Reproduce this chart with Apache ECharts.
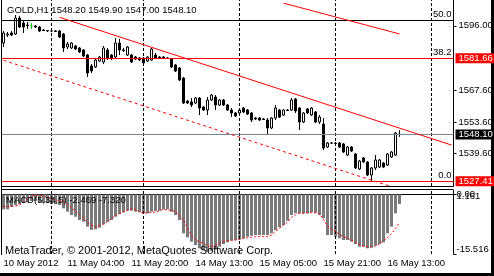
<!DOCTYPE html>
<html><head><meta charset="utf-8">
<script src="https://cdn.jsdelivr.net/npm/echarts@6/dist/echarts.min.js"></script>
<style>html,body{margin:0;padding:0;background:#fff}#c{width:494px;height:276px}</style>
</head><body><div id="c"></div>
<script>
// ---------- data ----------
const opens = [1588.41,1591.94,1592.82,1592.38,1599.44,1597.23,1596.35,1595.91,1595.91,1595.47,
1594.15,1593.93,1593.71,1593.71,1593.71,1592.38,1586.65,1586.21,1587.09,1586.21,
1585.33,1583.12,1578.27,1577.83,1580.47,1580.03,1585.33,1583.12,1582.24,1588.41,
1585.33,1583.12,1583.12,1582.24,1581.80,1581.80,1580.47,1580.91,1583.12,1582.24,
1582.24,1581.80,1581.36,1578.71,1577.39,1572.97,1562.83,1562.39,1561.95,1564.15,
1560.18,1558.86,1563.27,1564.59,1561.06,1563.27,1561.06,1558.86,1557.54,1557.54,
1559.74,1558.86,1557.54,1555.33,1555.33,1554.89,1554.45,1550.92,1555.33,1558.86,
1556.65,1558.86,1558.86,1563.71,1559.74,1553.56,1559.30,1556.65,1557.98,1553.56,
1552.68,1542.54,1544.30,1544.30,1544.30,1543.86,1539.01,1542.54,1539.45,1532.84,
1537.69,1535.92,1530.19,1533.28,1533.72,1535.48,1534.60,1538.13,1539.01,1548.20];
const closes = [1592.82,1592.38,1591.94,1599.44,1595.47,1595.47,1596.13,1595.91,1595.47,1593.71,
1593.93,1593.71,1593.70,1593.49,1591.06,1586.21,1587.97,1588.41,1585.77,1584.44,
1582.68,1575.18,1576.06,1580.91,1582.24,1586.21,1581.80,1581.36,1588.41,1585.33,
1585.10,1586.65,1580.03,1581.36,1580.91,1579.59,1582.24,1585.77,1581.80,1581.80,
1581.80,1581.58,1577.83,1576.06,1572.09,1561.95,1561.95,1561.06,1564.15,1559.74,
1558.86,1563.27,1565.47,1561.06,1563.27,1561.06,1558.86,1557.54,1556.21,1558.86,
1557.98,1557.09,1554.45,1554.89,1554.45,1554.67,1550.92,1555.33,1559.74,1555.77,
1558.86,1558.64,1563.27,1558.42,1553.56,1557.54,1557.54,1559.74,1553.56,1555.77,
1542.10,1544.30,1544.28,1544.08,1542.54,1540.33,1542.54,1540.78,1533.28,1536.36,
1535.92,1530.19,1533.28,1536.81,1536.81,1533.72,1539.45,1540.33,1548.71,1548.10];
const lows = [1586.65,1591.06,1591.50,1591.94,1595.03,1592.82,1594.59,1594.59,1595.03,1593.26,
1593.71,1593.26,1593.26,1593.26,1590.62,1584.44,1585.77,1585.77,1585.33,1584.00,
1582.24,1573.42,1575.18,1577.39,1580.03,1579.15,1580.91,1580.91,1581.36,1583.12,
1584.44,1582.68,1579.59,1580.91,1580.47,1578.71,1580.03,1580.47,1581.36,1581.36,
1581.36,1581.36,1577.39,1575.62,1571.65,1561.51,1561.51,1560.18,1561.51,1556.65,
1558.42,1556.65,1562.83,1558.86,1560.62,1560.62,1558.42,1555.77,1555.77,1557.09,
1557.54,1556.65,1553.56,1554.45,1554.01,1554.45,1548.27,1550.48,1554.45,1555.33,
1556.21,1558.42,1558.42,1557.54,1550.04,1553.12,1557.09,1556.21,1553.12,1552.68,
1541.22,1542.10,1543.86,1543.86,1542.10,1539.89,1538.57,1540.33,1532.84,1532.39,
1535.48,1529.75,1527.41,1532.39,1533.28,1533.28,1534.16,1537.69,1538.57,1547.00];
const highs = [1593.71,1593.26,1593.71,1600.76,1600.32,1598.12,1597.68,1597.23,1596.35,1595.91,
1594.59,1594.15,1594.15,1594.15,1594.15,1592.82,1588.85,1588.85,1587.53,1586.65,
1585.77,1583.56,1579.15,1581.80,1582.68,1587.09,1586.21,1583.56,1590.62,1590.18,
1586.21,1587.09,1583.56,1582.68,1582.24,1582.24,1582.68,1586.21,1584.00,1582.68,
1582.68,1582.24,1581.80,1579.15,1577.83,1573.42,1563.27,1564.15,1564.59,1564.59,
1560.62,1564.59,1565.91,1565.47,1563.71,1563.71,1561.51,1559.74,1557.98,1559.30,
1560.18,1559.30,1557.98,1555.77,1555.77,1555.33,1555.33,1555.77,1561.06,1559.30,
1559.30,1559.30,1564.15,1564.15,1560.18,1557.98,1559.74,1560.18,1558.42,1556.65,
1555.33,1544.74,1544.74,1544.74,1544.74,1544.30,1542.98,1542.98,1539.89,1536.81,
1538.13,1536.36,1533.72,1539.01,1537.25,1535.92,1539.89,1540.78,1549.15,1549.90];

const macd = [-3.87,-3.87,-3.19,-2.75,-2.49,-2.23,-1.97,-1.71,-1.71,-1.97,
-2.23,-2.23,-2.49,-2.49,-2.75,-3.61,-4.49,-5.35,-5.80,-6.66,
-7.10,-8.40,-9.26,-9.08,-8.66,-7.78,-7.10,-6.66,-5.80,-5.09,
-4.65,-4.23,-4.23,-4.49,-4.65,-4.91,-4.91,-4.49,-4.31,-4.23,
-3.90,-3.87,-4.49,-5.35,-6.66,-10.12,-11.17,-12.31,-13.17,-14.03,
-14.48,-14.92,-14.74,-14.29,-13.62,-12.91,-12.47,-12.05,-11.87,-11.69,
-11.43,-11.01,-10.75,-10.57,-10.57,-10.57,-10.57,-10.12,-9.26,-8.56,
-7.96,-6.84,-5.35,-4.91,-4.91,-4.91,-4.91,-4.65,-4.75,-5.35,
-6.21,-10.57,-10.57,-11.01,-11.43,-11.87,-11.87,-12.31,-12.91,-13.62,
-13.62,-14.03,-13.88,-13.35,-12.91,-12.47,-10.12,-8.40,-4.91,-2.469];
const signal = [-3.2,-3.2,-3.1,-3.0,-2.75,-2.0,-1.2,-0.5,-0.2,-0.14,
-0.4,-0.8,-1.1,-1.4,-1.7,-1.9,-2.7,-3.5,-4.3,-5.3,
-6.2,-7.3,-8.0,-8.4,-8.1,-7.7,-7.1,-6.3,-5.5,-5.0,
-4.5,-4.1,-3.8,-3.9,-4.5,-4.9,-4.8,-4.65,-4.6,-4.2,
-3.9,-4.0,-4.2,-4.4,-5.4,-6.7,-8.8,-10.6,-11.9,-12.4,
-12.7,-13.4,-13.6,-13.2,-12.8,-12.3,-12.0,-11.9,-11.9,-11.7,
-11.4,-11.3,-11.15,-11.0,-11.0,-11.0,-11.0,-10.6,-9.6,-8.8,
-8.0,-7.2,-6.0,-5.3,-4.9,-4.9,-4.8,-4.65,-4.8,-5.1,
-6.5,-8.2,-9.0,-9.7,-10.4,-11.0,-11.4,-11.9,-12.6,-13.0,
-13.5,-13.6,-13.6,-13.4,-12.9,-12.0,-11.3,-10.2,-8.8,-7.32];

const totalSlots = 113;                       // 100 bars + empty shift area
const tickIdx = [0,16,32,48,64,80,96];
const tickLabels = ['10 May 2012','11 May 04:00','11 May 20:00','14 May 13:00','15 May 05:00','15 May 21:00','16 May 13:00'];
const daySeparators = [12,35,59,83,107];
const priceTicks = [1596.00,1567.60,1553.60,1539.60];
const macdTicks = [0,-15.516];
const macdMaxTick = [1.161];
const hLinesRed = [1581.66,1527.41];
const bidPrice = 1548.10;
const fibLevels = [{v:1598.42,t:'50.0'},{v:1581.66,t:'38.2'},{v:1527.41,t:'0.0'}];
const trendUpper = [[14,1599.74],[112,1543.39]];
const trendShort = [[70,1606.0],[99,1592.4]];
const trendLower = [[0,1580.8],[112,1516.4]];

// ---------- chart ----------
const FONT = '"Liberation Sans", Arial, sans-serif';
const FS = 9.5;
const categories = [];
for (let i = 0; i < totalSlots; i++) categories.push(String(i));
const candleData = opens.map((o,i)=>[o, closes[i], lows[i], highs[i]]);
const last = opens.length - 1;
const titleText = 'GOLD,H1 ' + opens[last].toFixed(2) + ' ' + highs[last].toFixed(2) + ' ' + lows[last].toFixed(2) + ' ' + closes[last].toFixed(2);
const macdText = 'MACD(5,34,5) ' + macd[last].toFixed(3) + ' ' + signal[last].toFixed(3);

const chart = echarts.init(document.getElementById('c'), null, {renderer:'canvas', width:494, height:276});

const sepLines = daySeparators.map(i=>({xAxis:i, lineStyle:{color:'#000', type:[3,2], width:1}, label:{show:false}}));
const fibMarks = fibLevels.map(f=>({yAxis:f.v, lineStyle:{color:'#000', type:'solid', width:1},
  label:{show:true, position:'insideEndTop', formatter:f.t, color:'#000', fontFamily:FONT, fontSize:FS, distance:[2,1]}}));
const redMarks = hLinesRed.map(v=>({yAxis:v, lineStyle:{color:'#ff0000', type:'solid', width:1},
  label:{show:true, position:'end', formatter:v.toFixed(2), color:'#fff', backgroundColor:'#ff0000',
    fontFamily:FONT, fontSize:FS, lineHeight:10, padding:[0,2,0,3], width:34, distance:2}}));
const bidMark = {yAxis:bidPrice, lineStyle:{color:'#778899', type:'solid', width:1},
  label:{show:true, position:'end', formatter:bidPrice.toFixed(2), color:'#fff', backgroundColor:'#000',
    fontFamily:FONT, fontSize:FS, lineHeight:10, padding:[0,2,0,3], width:34, distance:2}};

const option = {
  animation:false,
  backgroundColor:'#fff',
  grid:[
    {left:1.5, top:0, width:452, height:186, containLabel:false, outerBoundsMode:'none'},
    {left:1.5, top:190, width:452, height:64, containLabel:false, outerBoundsMode:'none'}
  ],
  xAxis:[
    {type:'category', gridIndex:0, data:categories, boundaryGap:true,
     axisLine:{show:true, lineStyle:{color:'#000', width:1}}, axisTick:{show:false}, axisLabel:{show:false}, splitLine:{show:false}},
    {type:'category', gridIndex:1, data:categories, boundaryGap:true,
     axisLine:{show:true, lineStyle:{color:'#000', width:1}},
     axisTick:{show:true, alignWithLabel:true, length:3, interval:(i)=>tickIdx.indexOf(i)>=0, lineStyle:{color:'#000'}},
     axisLabel:{show:true, interval:(i)=>tickIdx.indexOf(i)>=0, formatter:(v,i)=>tickLabels[tickIdx.indexOf(Number(v))],
       align:'left', margin:4, color:'#000', fontFamily:FONT, fontSize:FS, hideOverlap:false},
     splitLine:{show:false}}
  ],
  yAxis:[
    {type:'value', gridIndex:0, position:'right', min:1525.34, max:1607.38, scale:true,
     axisLine:{show:true, lineStyle:{color:'#000', width:1}},
     axisTick:{show:true, customValues:priceTicks, length:3, lineStyle:{color:'#000'}},
     axisLabel:{show:true, customValues:priceTicks, formatter:v=>Number(v).toFixed(2), margin:5, color:'#000', fontFamily:FONT, fontSize:FS, hideOverlap:false},
     splitLine:{show:false}},
    {type:'value', gridIndex:1, position:'right', min:-15.516, max:1.161,
     axisLine:{show:true, lineStyle:{color:'#000', width:1}},
     axisTick:{show:true, customValues:macdTicks, length:3, lineStyle:{color:'#000'}},
     axisLabel:{show:true, customValues:macdTicks, margin:3, color:'#000', fontFamily:FONT, fontSize:FS, hideOverlap:false,
       showMinLabel:true, showMaxLabel:true,
       formatter:v=>{ v=Number(v); if (v===0) return '{z|0.00}'; return '{b|'+v.toFixed(3)+'}'; },
       rich:{z:{fontFamily:FONT, fontSize:FS}, b:{fontFamily:FONT, fontSize:FS, padding:[0,0,10,0]}}},
     splitLine:{show:false}},
    {type:'value', gridIndex:1, position:'right', min:-15.516, max:1.161,
     axisLine:{show:false}, axisTick:{show:false},
     axisLabel:{show:true, customValues:macdMaxTick, margin:3, color:'#000', fontFamily:FONT, fontSize:FS, hideOverlap:false,
       showMinLabel:true, showMaxLabel:true,
       formatter:v=>'{t|'+Number(v).toFixed(3)+'}',
       rich:{t:{fontFamily:FONT, fontSize:FS, padding:[13,0,0,0]}}},
     splitLine:{show:false}}
  ],
  series:[
    {type:'candlestick', xAxisIndex:0, yAxisIndex:0, data:candleData, barWidth:3,
     itemStyle:{color:'#ffffff', color0:'#000000', borderColor:'#000000', borderColor0:'#000000', borderColorDoji:'#00cc00', borderWidth:1},
     markLine:{symbol:['none','none'], silent:true, animation:false, data:[...sepLines, ...fibMarks, bidMark, ...redMarks]}},
    {type:'line', xAxisIndex:0, yAxisIndex:0, data:trendUpper, symbol:'none', silent:true, lineStyle:{color:'#ff0000', width:1}, z:5},
    {type:'line', xAxisIndex:0, yAxisIndex:0, data:trendShort, symbol:'none', silent:true, lineStyle:{color:'#ff0000', width:1}, z:5},
    {type:'line', xAxisIndex:0, yAxisIndex:0, data:trendLower, symbol:'none', silent:true, clip:true, lineStyle:{color:'#ff0000', width:1, type:[3,3]}, z:5},
    {type:'bar', xAxisIndex:1, yAxisIndex:1, data:macd, barWidth:3, itemStyle:{color:'#7a7a7a'},
     markLine:{symbol:['none','none'], silent:true, animation:false, data:sepLines}},
    {type:'line', xAxisIndex:1, yAxisIndex:1, data:signal, symbol:'none', silent:true, lineStyle:{color:'#ff0000', width:1, type:[2,2]}, z:5}
  ],
  graphic:[
    {type:'line', silent:true, z:50, shape:{x1:1, y1:189.5, x2:453, y2:189.5}, style:{stroke:'#000', lineWidth:1}},
    {type:'line', silent:true, z:50, shape:{x1:1.5, y1:0, x2:1.5, y2:255}, style:{stroke:'#000', lineWidth:1}},
    {type:'rect', silent:true, z:1, shape:{x:491, y:0, width:3, height:276}, style:{fill:'#000'}},
    {type:'rect', silent:true, z:1, shape:{x:0, y:273, width:494, height:3}, style:{fill:'#000'}},
    {type:'text', silent:true, z:60, x:7, y:10.5, style:{text:titleText, fill:'#000', fontFamily:FONT, fontSize:FS, verticalAlign:'middle'}},
    {type:'text', silent:true, z:60, x:6, y:200, style:{text:macdText, fill:'#000', fontFamily:FONT, fontSize:FS, verticalAlign:'middle'}},
    {type:'text', silent:true, z:60, x:5, y:251, style:{text:'MetaTrader, © 2001-2012, MetaQuotes Software Corp.', fill:'#000', fontFamily:FONT, fontSize:11, verticalAlign:'middle'}}
  ]
};
chart.setOption(option);
</script></body></html>
